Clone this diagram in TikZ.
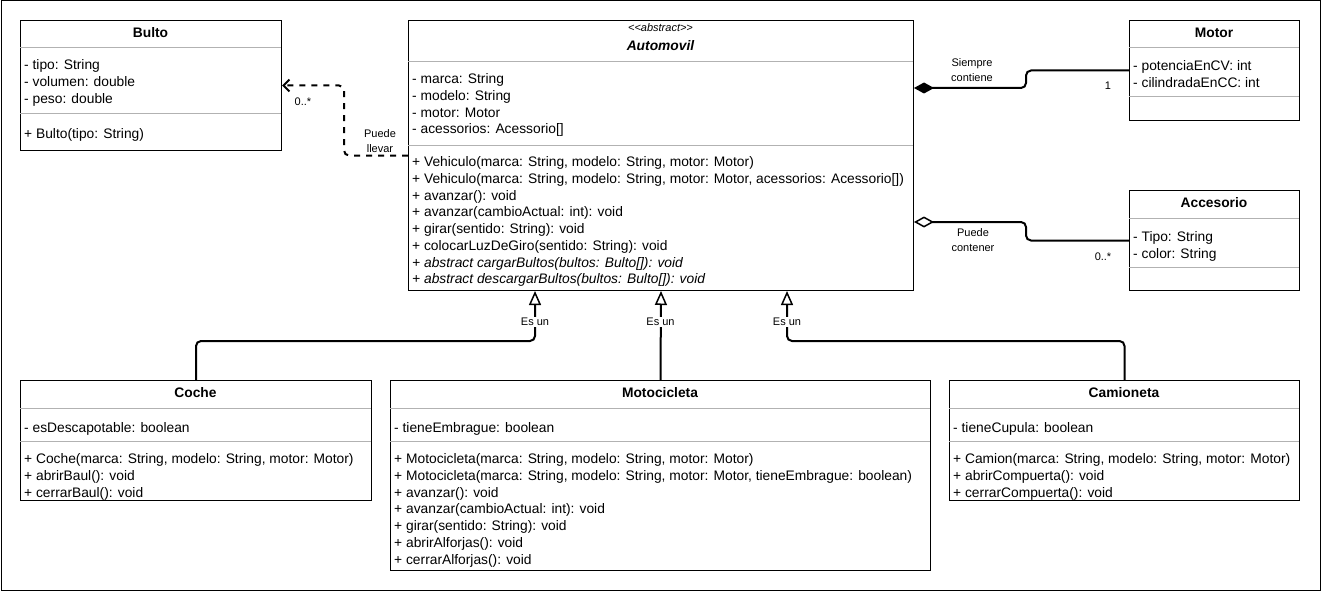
\documentclass[tikz,border=0pt]{standalone}
\usepackage{fontspec}
\setmainfont{Liberation Sans}
\usetikzlibrary{arrows.meta,calc}

\tikzset{
	box/.style={draw, line width=1pt, fill=white, inner sep=0pt, anchor=north west},
	sep/.style={draw=black!30, line width=1pt},
	ttl/.style={font=\bfseries\fontsize{13.8}{16}\selectfont, inner sep=0pt, anchor=base},
	txt/.style={font=\fontsize{13.8}{16.7}\selectfont, align=left, inner sep=0pt, anchor=north west, yshift=8.4pt, execute at begin node=\strut},
	lbl/.style={font=\fontsize{11}{14.5}\selectfont, align=center, inner sep=1pt},
	link/.style={line width=2pt, rounded corners=5pt},
	gen/.style={link, -{Triangle[open, length=14pt, width=12pt, line width=1.5pt]}},
	assoc/.style={link, -{Straight Barb[length=6pt, width=12pt, line width=2pt]}},
}

\begin{document}
\begin{tikzpicture}[x=1pt, y=-1pt]
	\useasboundingbox (0,0) rectangle (1321,591);
	\draw[line width=1pt] (1,1) rectangle (1320,590);

	% Bulto
	\node[box, minimum width=261pt, minimum height=130pt] (bulto) at (20,20) {};
	\node[ttl] (bultoname) at (150.5,38) {Bulto};
	\draw[sep] (20,48) -- (281,48);
	\node[txt] (bultoattr) at (24,68) {- tipo: String\\- volumen: double\\- peso: double};
	\draw[sep] (20,114) -- (281,114);
	\node[txt] (bultometh) at (24,135) {+ Bulto(tipo: String)};

	% Automovil
	\node[box, minimum width=505pt, minimum height=270pt] (automovil) at (408,20) {};
	\node[font=\itshape\fontsize{11}{12}\selectfont, inner sep=0pt, anchor=base] (stereo) at (660.5,32) {<\kern0pt<abstract>\kern0pt>};
	\node[ttl, font=\bfseries\itshape\fontsize{13.8}{16}\selectfont] (autoname) at (660.5,51) {Automovil};
	\draw[sep] (408,62) -- (913,62);
	\node[txt] (autoattr) at (412,82) {- marca: String\\- modelo: String\\- motor: Motor\\- acessorios: Acessorio[]};
	\draw[sep] (408,145) -- (913,145);
	\node[txt] (autometh) at (412,165) {+ Vehiculo(marca: String, modelo: String, motor: Motor)\\
		+ Vehiculo(marca: String, modelo: String, motor: Motor, acessorios: Acessorio[])\\
		+ avanzar(): void\\
		+ avanzar(cambioActual: int): void\\
		+ girar(sentido: String): void\\
		+ colocarLuzDeGiro(sentido: String): void\\
		\itshape + abstract cargarBultos(bultos: Bulto[]): void\\
		\itshape + abstract descargarBultos(bultos: Bulto[]): void};

	% Motor
	\node[box, minimum width=170pt, minimum height=100pt] (motor) at (1129,20) {};
	\node[ttl] (motorname) at (1214,38) {Motor};
	\draw[sep] (1129,48) -- (1299,48);
	\node[txt] (motorattr) at (1133,69) {- potenciaEnCV: int\\- cilindradaEnCC: int};
	\draw[sep] (1129,97) -- (1299,97);

	% Accesorio
	\node[box, minimum width=170pt, minimum height=100pt] (accesorio) at (1129,190) {};
	\node[ttl] (accname) at (1214,207) {Accesorio};
	\draw[sep] (1129,218) -- (1299,218);
	\node[txt] (accattr) at (1133,240) {- Tipo: String\\- color: String};
	\draw[sep] (1129,267) -- (1299,267);

	% Coche
	\node[box, minimum width=351pt, minimum height=120pt] (coche) at (20,380) {};
	\node[ttl] (cochename) at (195.5,397) {Coche};
	\draw[sep] (20,408) -- (371,408);
	\node[txt] (cocheattr) at (24,429) {- esDescapotable: boolean};
	\draw[sep] (20,441) -- (371,441);
	\node[txt] (cochemeth) at (24,462) {+ Coche(marca: String, modelo: String, motor: Motor)\\+ abrirBaul(): void\\+ cerrarBaul(): void};

	% Motocicleta
	\node[box, minimum width=540pt, minimum height=190pt] (moto) at (390,380) {};
	\node[ttl] (motoname) at (660,397) {Motocicleta};
	\draw[sep] (390,408) -- (930,408);
	\node[txt] (motoattr) at (394,429) {- tieneEmbrague: boolean};
	\draw[sep] (390,441) -- (930,441);
	\node[txt] (motometh) at (394,462) {+ Motocicleta(marca: String, modelo: String, motor: Motor)\\
		+ Motocicleta(marca: String, modelo: String, motor: Motor, tieneEmbrague: boolean)\\
		+ avanzar(): void\\
		+ avanzar(cambioActual: int): void\\
		+ girar(sentido: String): void\\
		+ abrirAlforjas(): void\\
		+ cerrarAlforjas(): void};

	% Camioneta
	\node[box, minimum width=350pt, minimum height=120pt] (camioneta) at (949,380) {};
	\node[ttl] (camname) at (1124,397) {Camioneta};
	\draw[sep] (949,408) -- (1299,408);
	\node[txt] (camattr) at (953,429) {- tieneCupula: boolean};
	\draw[sep] (949,441) -- (1299,441);
	\node[txt] (cammeth) at (953,462) {+ Camion(marca: String, modelo: String, motor: Motor)\\+ abrirCompuerta(): void\\+ cerrarCompuerta(): void};

	% relaciones
	\draw[assoc, dashed, dash pattern=on 6pt off 6pt] (automovil.west) -- ++(-64,0) |- (bulto.east);
	\node[lbl] (llevar) at (380,141) {Puede\\llevar};
	\node[lbl] (bultomult) at (303,102) {0..*};

	\draw[assoc, {Diamond[length=20pt, width=11pt]}-] ($(automovil.north east)+(0,68)$) -- ++(112,0) |- (motor.west);
	\node[lbl] (siempre) at (972,70) {Siempre\\contiene};
	\node[lbl] (motormult) at (1108,86) {1};

	\draw[assoc, {Diamond[open, length=20pt, width=11pt, line width=1.5pt]}-] ($(automovil.north east)+(0,202)$) -- ++(112,0) |- (accesorio.west);
	\node[lbl] (contener) at (973,240) {Puede\\contener};
	\node[lbl] (accmult) at (1103,257) {0..*};

	\draw[gen] (coche.north) -- ++(0,-39) -| ($(automovil.south west)+(127,0)$);
	\draw[gen] (moto.north) -- (automovil.south);
	\draw[gen] (camioneta.north) -- ++(0,-39) -| ($(automovil.south west)+(379,0)$);
	\node[lbl, fill=white] (esun1) at (535,322) {Es un};
	\node[lbl, fill=white] (esun2) at (660.5,322) {Es un};
	\node[lbl, fill=white] (esun3) at (787,322) {Es un};
\end{tikzpicture}
\end{document}
